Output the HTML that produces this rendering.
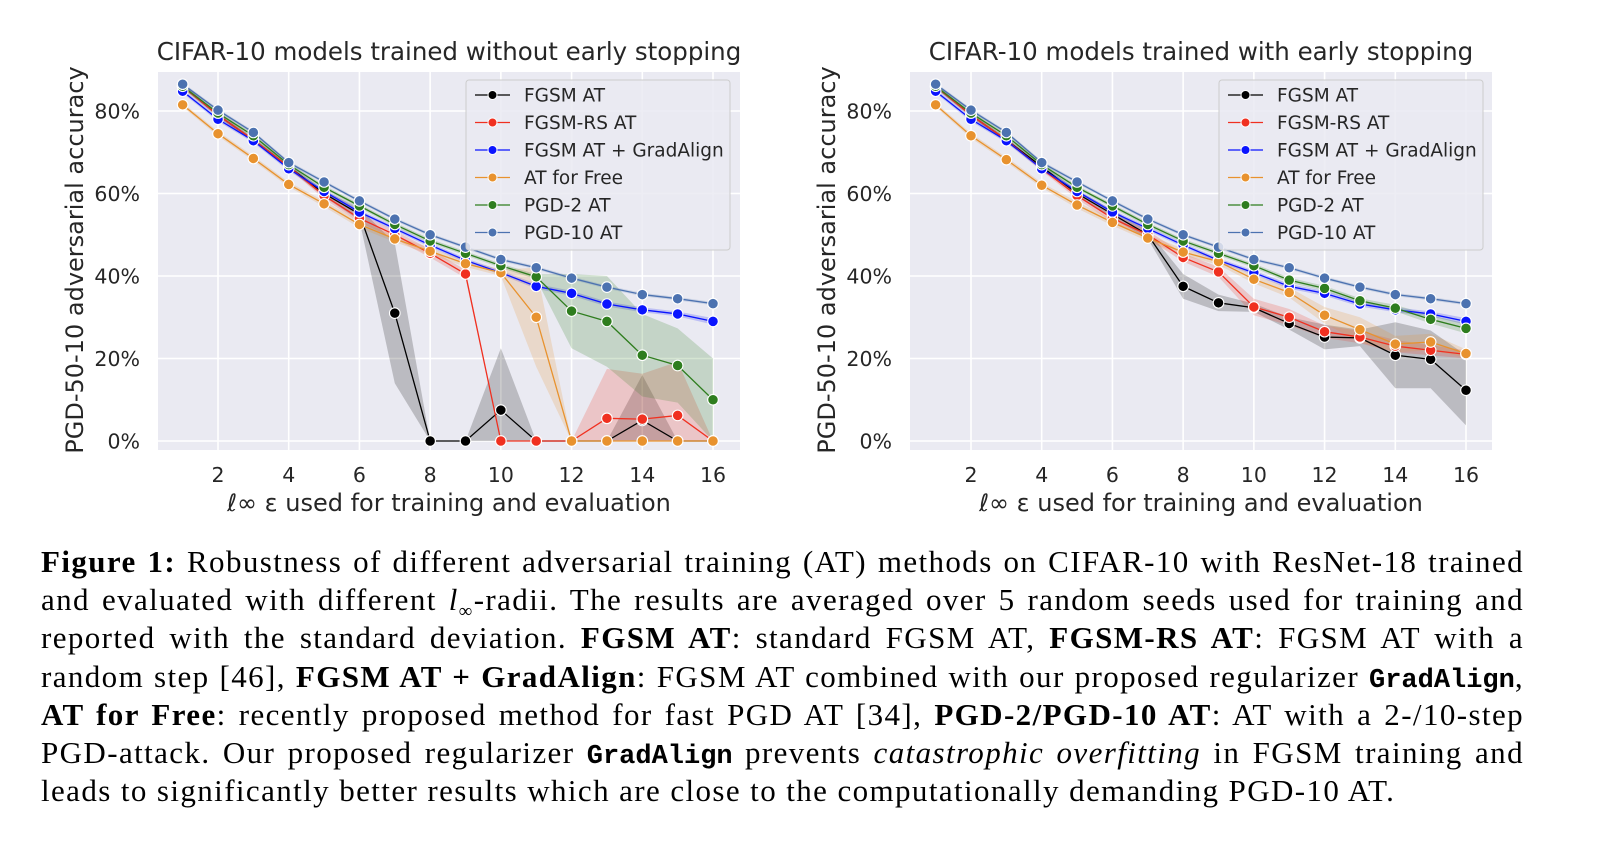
<!DOCTYPE html>
<html><head><meta charset="utf-8">
<style>
body{margin:0;background:#fff;width:1610px;height:862px;overflow:hidden;}
#fig{position:absolute;left:0;top:0;}
#caption{position:absolute;left:41px;top:543px;width:1483px;font-family:"Liberation Serif",serif;font-size:31px;letter-spacing:1.4px;line-height:38.2px;color:#000;}
#caption div{text-align:justify;text-align-last:justify;white-space:nowrap;height:38.2px;}
#caption div.last{text-align-last:left;}
#caption .m{font-family:"Liberation Mono",monospace;font-weight:bold;font-size:27px;letter-spacing:0;}
#caption sub{font-size:19px;line-height:0;}
</style></head>
<body>
<svg id="fig" width="1610" height="540"></svg>
<div id="caption">
<div><b>Figure 1:</b> Robustness of different adversarial training (AT) methods on CIFAR-10 with ResNet-18 trained</div>
<div>and evaluated with different <i>l</i><sub>∞</sub>-radii. The results are averaged over 5 random seeds used for training and</div>
<div>reported with the standard deviation. <b>FGSM AT</b>: standard FGSM AT, <b>FGSM-RS AT</b>: FGSM AT with a</div>
<div>random step [46], <b>FGSM AT + GradAlign</b>: FGSM AT combined with our proposed regularizer <span class="m">GradAlign</span>,</div>
<div><b>AT for Free</b>: recently proposed method for fast PGD AT [34], <b>PGD-2/PGD-10 AT</b>: AT with a 2-/10-step</div>
<div>PGD-attack. Our proposed regularizer <span class="m">GradAlign</span> prevents <i>catastrophic overfitting</i> in FGSM training and</div>
<div class="last">leads to significantly better results which are close to the computationally demanding PGD-10 AT.</div>
</div>
<script>
const eps = [1,2,3,4,5,6,7,8,9,10,11,12,13,14,15,16];
const xTicks = [2,4,6,8,10,12,14,16];
const yTicks = [0,20,40,60,80];
const seriesNames = ["FGSM AT","FGSM-RS AT","FGSM AT + GradAlign","AT for Free","PGD-2 AT","PGD-10 AT"];
const seriesColors = ["#000000","#f03020","#0a14ff","#e8922e","#2e7d1e","#4c72b0"];
// Left: without early stopping
const L_fgsm   = [86,79,73,66.5,60,55,31,0,0,7.5,0,0,0,5,0,0];
const L_fgsmS  = [0.5,0.5,0.5,0.5,0.8,1.5,17,0,0,15,0,0,0,11,0,0];
const L_rs     = [86,79,73,66.5,59.5,54,50,45.5,40.5,0,0,0,5.5,5.3,6.2,0];
const L_rsS    = [0.5,0.5,0.5,0.5,0.8,1,1,1,1,0,0,0,12,11,13,0];
const L_ga     = [84.8,78,72.8,66,60.5,55.5,51.5,47.5,43.8,40.8,37.5,35.8,33.2,31.8,30.8,29];
const L_gaS    = [0.5,0.5,0.5,0.5,0.5,0.5,0.5,0.5,0.5,0.5,0.6,0.6,0.6,0.6,0.6,0.8];
const L_free   = [81.5,74.5,68.5,62.2,57.5,52.5,49,46,43,40.8,30,0,0,0,0,0];
const L_freeS  = [0.5,0.6,0.6,0.6,0.7,0.8,0.8,0.8,0.8,0.8,12,0,0,0,0,0];
const L_pgd2   = [86,79.5,74,67,61.5,57,52.5,48.5,45.5,42.5,39.8,31.5,29,20.8,18.3,10];
const L_pgd2S  = [0.5,0.5,0.5,0.5,0.5,0.5,0.5,0.5,0.5,0.5,0.6,9,11,10,9,10];
const L_pgd10  = [86.5,80.2,74.8,67.5,62.8,58.2,53.8,50,47,44,42,39.5,37.3,35.5,34.5,33.3];
const L_pgd10S = [0.4,0.4,0.4,0.4,0.4,0.4,0.4,0.4,0.4,0.4,0.4,0.4,0.4,0.4,0.4,0.4];
// Right: with early stopping
const R_fgsm   = [86,79,73,66.5,60,55,50,37.5,33.5,32.3,28.5,25.2,25,20.8,19.8,12.3];
const R_fgsmS  = [0.5,0.5,0.5,0.5,0.8,1,1,3,2,1,1.5,3,2,8,7,8.5];
const R_rs     = [86,79,73,66,59.5,54,50,44.5,41,32.5,30,26.5,25.2,23,22,21];
const R_rsS    = [0.5,0.5,0.5,0.5,0.8,1,1,1,1.2,2,2,1.5,1.5,1.5,1.2,1];
const R_ga     = [84.8,78,72.8,66,60.5,55.5,51.5,47.5,43.8,40.8,37.5,35.8,33.2,31.8,30.8,29];
const R_gaS    = [0.5,0.5,0.5,0.5,0.5,0.5,0.5,0.5,0.5,0.5,0.6,0.6,0.6,0.6,0.6,0.8];
const R_free   = [81.5,74,68.2,62,57.2,53,49.2,45.8,43.5,39.2,36,30.5,27,23.5,24,21.2];
const R_freeS  = [0.5,0.6,0.6,0.6,0.8,0.8,0.8,0.8,0.8,1,1.2,2,3,2,2,1];
const R_pgd2   = [86,79.5,74,67,61.5,57,52.5,48.5,45.5,42.5,39,37,34,32.2,29.5,27.3];
const R_pgd2S  = [0.5,0.5,0.5,0.5,0.5,0.5,0.5,0.5,0.5,0.5,0.6,0.6,0.6,0.8,1,1.2];
const R_pgd10  = [86.5,80.2,74.8,67.5,62.8,58.2,53.8,50,47,44,42,39.5,37.3,35.5,34.5,33.3];
const R_pgd10S = [0.4,0.4,0.4,0.4,0.4,0.4,0.4,0.4,0.4,0.4,0.4,0.4,0.4,0.4,0.4,0.4];

const NS="http://www.w3.org/2000/svg";
const svg=document.getElementById('fig');
function el(tag,attrs,parent){const e=document.createElementNS(NS,tag);for(const k in attrs)e.setAttribute(k,attrs[k]);(parent||svg).appendChild(e);return e;}
const FONT='"DejaVu Sans","Liberation Sans",sans-serif';

function drawPanel(cfg){
  const g=el('g',{});
  
  
  const xS=v=>cfg.x2+(v-2)*(cfg.x16-cfg.x2)/14;
  const yS=v=>441-v*(441-111)/80;
  const bg=el('rect',{x:cfg.bx,y:72,width:582,height:378,fill:'#eaeaf2'},g);
  
  
  xTicks.forEach(t=>{
    const l=el('line',{x1:xS(t),x2:xS(t),y1:72,y2:450,stroke:'#fff','stroke-width':1.6},g);
    
    
    const tx=el('text',{x:xS(t),y:482,'text-anchor':'middle','font-size':20.5,'font-family':FONT,fill:'#262626'},g);
    tx.textContent=t;
    
    
  });
  yTicks.forEach(t=>{
    const l=el('line',{x1:cfg.bx,x2:cfg.bx+582,y1:yS(t),y2:yS(t),stroke:'#fff','stroke-width':1.6},g);
    
    
    const tx=el('text',{x:cfg.bx-18,y:yS(t)+7.5,'text-anchor':'end','font-size':20.5,'font-family':FONT,fill:'#262626'},g);
    tx.textContent=t+'%';
    
    
  });
  const title=el('text',{x:cfg.bx+291,y:60,'text-anchor':'middle','font-size':24.5,'font-family':FONT,fill:'#262626'},g);
  title.textContent=cfg.title;
  
  
  const xl=el('text',{x:cfg.bx+291,y:511,'text-anchor':'middle','font-size':24,'font-family':FONT,fill:'#262626'},g);
  xl.textContent='ℓ∞ ε used for training and evaluation';
  
  
  const yl=el('text',{x:0,y:0,'text-anchor':'middle','font-size':24,'font-family':FONT,fill:'#262626',transform:`translate(${cfg.bx-75},260) rotate(-90)`},g);
  yl.textContent='PGD-50-10 adversarial accuracy';
  
  
  cfg.series.forEach((s,i)=>{
    const up=eps.map((e,j)=>xS(e)+','+yS(Math.min(100,s[0][j]+s[1][j])));
    const lo=eps.map((e,j)=>xS(e)+','+yS(Math.max(0,s[0][j]-s[1][j]))).reverse();
    const p=el('polygon',{points:up.concat(lo).join(' '),fill:seriesColors[i],'fill-opacity':0.2,stroke:'none'},g);
    
    
  });
  cfg.series.forEach((s,i)=>{
    const pl=el('polyline',{points:eps.map((e,j)=>xS(e)+','+yS(s[0][j])).join(' '),fill:'none',stroke:seriesColors[i],'stroke-width':1.3},g);
    
    
  });
  cfg.series.forEach((s,i)=>{
    eps.forEach((e,j)=>{
      const c=el('circle',{cx:xS(e),cy:yS(s[0][j]),r:5.3,fill:seriesColors[i],stroke:'#fff','stroke-width':1.1},g);
      
      
    });
  });
  const lg=el('g',{},g);
  
  
  el('rect',{x:cfg.lx,y:80,width:264,height:170,rx:3,fill:'#eaeaf2','fill-opacity':0.85,stroke:'#cccccc','stroke-width':1},lg);
  seriesNames.forEach((n,i)=>{
    const y=95+i*27.5;
    const e=el('g',{},lg);
    
    
    el('line',{x1:cfg.lx+9,x2:cfg.lx+44,y1:y,y2:y,stroke:seriesColors[i],'stroke-width':1.3},e);
    el('circle',{cx:cfg.lx+26.5,cy:y,r:4.5,fill:seriesColors[i],stroke:'#fff','stroke-width':1},e);
    const t=el('text',{x:cfg.lx+58,y:y+6.5,'font-size':18.5,'font-family':FONT,fill:'#262626'},e);
    t.textContent=n;
  });
}
drawPanel({name:'chart-without-early-stopping',title:'CIFAR-10 models trained without early stopping',bx:158,x2:218,x16:713,lx:466,
  series:[[L_fgsm,L_fgsmS],[L_rs,L_rsS],[L_ga,L_gaS],[L_free,L_freeS],[L_pgd2,L_pgd2S],[L_pgd10,L_pgd10S]]});
drawPanel({name:'chart-with-early-stopping',title:'CIFAR-10 models trained with early stopping',bx:910,x2:971,x16:1466,lx:1219,
  series:[[R_fgsm,R_fgsmS],[R_rs,R_rsS],[R_ga,R_gaS],[R_free,R_freeS],[R_pgd2,R_pgd2S],[R_pgd10,R_pgd10S]]});
</script>
</body></html>
